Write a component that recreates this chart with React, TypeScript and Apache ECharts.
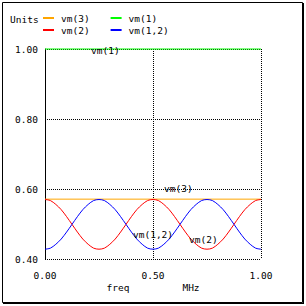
import React, { useEffect, useRef } from "react";
import * as echarts from "echarts";

const freq = [
  0, 0.025, 0.05, 0.075, 0.1, 0.125, 0.15, 0.175, 0.2, 0.225, 0.25,
  0.275, 0.3, 0.325, 0.35, 0.375, 0.4, 0.425, 0.45, 0.475, 0.5,
  0.525, 0.55, 0.575, 0.6, 0.625, 0.65, 0.675, 0.7, 0.725, 0.75,
  0.775, 0.8, 0.825, 0.85, 0.875, 0.9, 0.925, 0.95, 0.975, 1.0,
];
const vm1 = [1, 1];
const vm1Freq = [0, 1];
const vm3 = [0.571, 0.571];
const vm3Freq = [0, 1];
const vm2 = [
  0.570, 0.567, 0.556, 0.541, 0.521, 0.499, 0.477, 0.457, 0.442, 0.431, 0.428,
  0.431, 0.442, 0.457, 0.477, 0.499, 0.521, 0.541, 0.556, 0.567, 0.570,
  0.567, 0.556, 0.541, 0.521, 0.499, 0.477, 0.457, 0.442, 0.431, 0.428,
  0.431, 0.442, 0.457, 0.477, 0.499, 0.521, 0.541, 0.556, 0.567, 0.570,
];
const vm12 = [
  0.428, 0.431, 0.442, 0.457, 0.477, 0.499, 0.521, 0.541, 0.556, 0.567, 0.570,
  0.567, 0.556, 0.541, 0.521, 0.499, 0.477, 0.457, 0.442, 0.431, 0.428,
  0.431, 0.442, 0.457, 0.477, 0.499, 0.521, 0.541, 0.556, 0.567, 0.570,
  0.567, 0.556, 0.541, 0.521, 0.499, 0.477, 0.457, 0.442, 0.431, 0.428,
];
const xTicks = { min: 0, max: 1, interval: 0.5 };
const yTicks = { min: 0.4, max: 1.0, interval: 0.2 };

const FONT = "DejaVu Sans Mono";
const FS = 9.5;

export default function App() {
  const ref = useRef<HTMLDivElement>(null);
  useEffect(() => {
    document.body.style.margin = "0";
    const chart = echarts.init(ref.current!, null, { renderer: "svg" });
    const dotted = { color: "#000", width: 1, type: [1, 1] as any };
    const txt = (text: string, x: number, y: number, align = "left") => ({
      type: "text",
      x,
      y,
      style: { text, fill: "#000", font: `${FS}px "${FONT}"`, textAlign: align, textVerticalAlign: "middle" },
      z: 100,
    });
    chart.setOption({
      animation: false,
      backgroundColor: "#fff",
      grid: { left: 45, top: 49, width: 216, height: 210, containLabel: false },
      xAxis: {
        type: "value",
        min: xTicks.min,
        max: xTicks.max,
        interval: xTicks.interval,
        axisLine: { show: false },
        axisTick: { show: false },
        axisLabel: { formatter: (v: number) => v.toFixed(2), color: "#000", fontFamily: FONT, fontSize: FS, margin: 11 },
        splitLine: { show: true, lineStyle: dotted },
      },
      yAxis: {
        type: "value",
        min: yTicks.min,
        max: yTicks.max,
        interval: yTicks.interval,
        axisLine: { show: true, lineStyle: { color: "#000", width: 1 } },
        axisTick: { show: false },
        axisLabel: { formatter: (v: number) => v.toFixed(2), color: "#000", fontFamily: FONT, fontSize: FS, margin: 7 },
        splitLine: { show: true, lineStyle: dotted },
      },
      legend: [
        {
          data: ["vm(3)", "vm(1)"],
          left: 43,
          top: 13,
          itemWidth: 11,
          itemHeight: 2,
          itemGap: 21,
          icon: "rect",
          padding: 0,
          textStyle: { color: "#000", fontFamily: FONT, fontSize: FS, padding: [0, 0, 0, 2] },
        },
        {
          data: ["vm(2)", "vm(1,2)"],
          left: 43,
          top: 25,
          itemWidth: 11,
          itemHeight: 2,
          itemGap: 21,
          icon: "rect",
          padding: 0,
          textStyle: { color: "#000", fontFamily: FONT, fontSize: FS, padding: [0, 0, 0, 2] },
        },
      ],
      series: [
        {
          name: "vm(3)",
          type: "line",
          data: vm3Freq.map((f, i) => [f, vm3[i]]),
          showSymbol: false,
          clip: false,
          lineStyle: { color: "#ffa500", width: 1 },
          itemStyle: { color: "#ffa500" },
        },
        {
          name: "vm(1)",
          type: "line",
          data: vm1Freq.map((f, i) => [f, vm1[i]]),
          showSymbol: false,
          clip: false,
          z: 5,
          lineStyle: { color: "#00ff00", width: 1 },
          itemStyle: { color: "#00ff00" },
        },
        {
          name: "vm(2)",
          type: "line",
          data: freq.map((f, i) => [f, vm2[i]]),
          showSymbol: false,
          smooth: 0.3,
          lineStyle: { color: "#ff0000", width: 1 },
          itemStyle: { color: "#ff0000" },
        },
        {
          name: "vm(1,2)",
          type: "line",
          data: freq.map((f, i) => [f, vm12[i]]),
          showSymbol: false,
          smooth: 0.3,
          lineStyle: { color: "#0000ff", width: 1 },
          itemStyle: { color: "#0000ff" },
        },
      ],
      graphic: [
        { type: "rect", shape: { x: 2.5, y: 2.5, width: 300, height: 300 }, style: { fill: "none", stroke: "#000", lineWidth: 1 }, z: 100 },
        { type: "line", shape: { x1: 303.5, y1: 3, x2: 303.5, y2: 304 }, style: { stroke: "#000", lineWidth: 1 }, z: 100 },
        { type: "line", shape: { x1: 3, y1: 303.5, x2: 304, y2: 303.5 }, style: { stroke: "#000", lineWidth: 1 }, z: 100 },
        txt("Units", 10, 19),
        txt("vm(1)", 91, 50),
        txt("vm(3)", 164, 188),
        txt("vm(1,2)", 133, 234),
        txt("vm(2)", 189, 239),
        txt("freq", 118, 287, "center"),
        txt("MHz", 191, 287, "center"),
      ],
    });
    return () => chart.dispose();
  }, []);
  return <div ref={ref} style={{ width: 306, height: 306 }} />;
}
